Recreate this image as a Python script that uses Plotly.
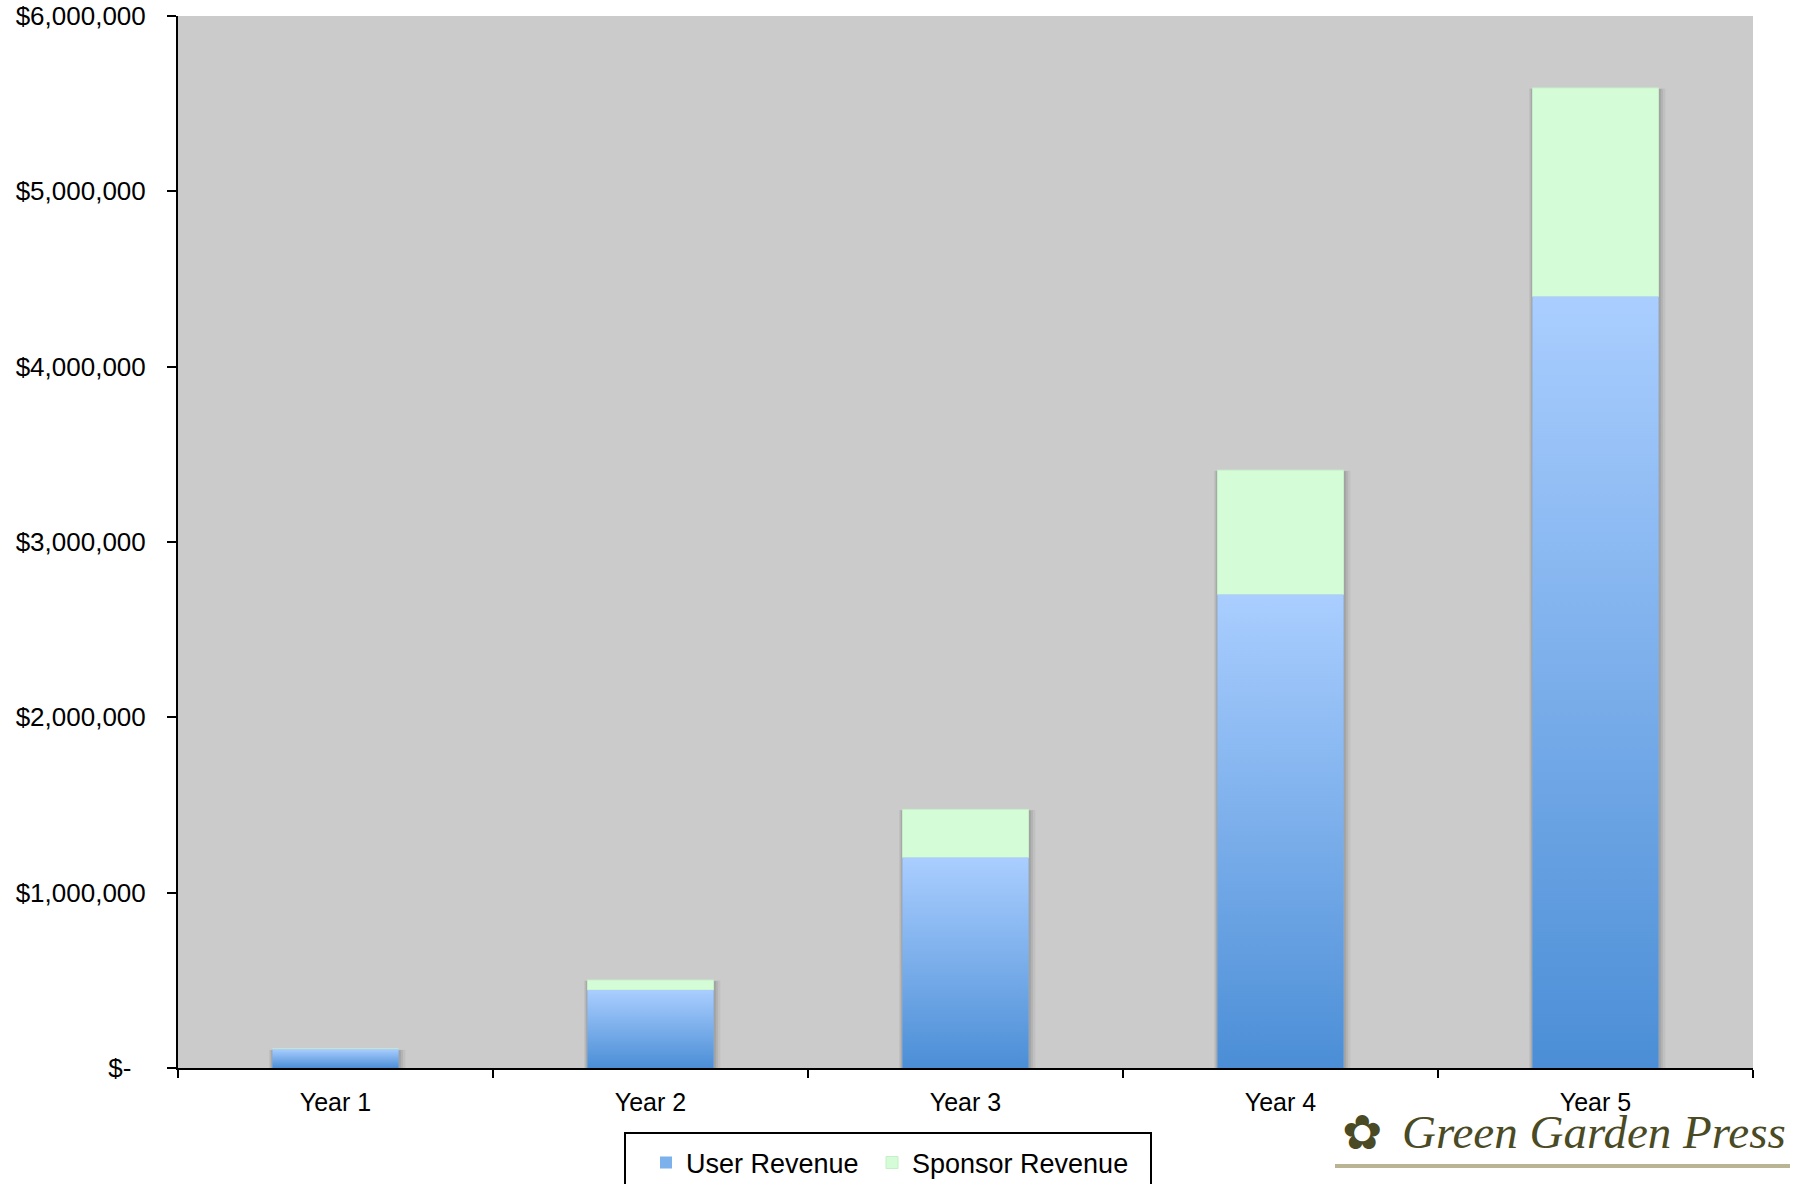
import plotly.graph_objects as go

# Revenue by year (USD)
years = ["Year 1", "Year 2", "Year 3", "Year 4", "Year 5"]
user_revenue = [108000, 445000, 1200000, 2700000, 4400000]
sponsor_revenue = [0, 57000, 275000, 710000, 1190000]

y_tick_vals = [0, 1000000, 2000000, 3000000, 4000000, 5000000, 6000000]
y_tick_text = ["$-\u00a0\u00a0", "$1,000,000", "$2,000,000", "$3,000,000",
               "$4,000,000", "$5,000,000", "$6,000,000"]

BAR_W = 0.4
FONT = "Liberation Sans, Arial, Helvetica, sans-serif"
BLUE_DARK = "#4B8ED6"
BLUE_LIGHT = "#AACEFF"
GREEN = "#D4FCD6"

W, H = 1797, 1184
ML, MR, MT, MB = 178, 44, 16, 116
PW, PH = W - ML - MR, H - MT - MB


def px_x(px):
    return (px - ML) / PW


def px_y(py):
    return (H - MB - py) / PH


fig = go.Figure()

# Stacked bars (each series keyed to its own legend box entry)
fig.add_trace(go.Bar(
    x=years, y=user_revenue, name="User Revenue", width=BAR_W,
    marker=dict(color="#7DB1EC", line=dict(width=0)), legend="legend",
))
fig.add_trace(go.Bar(
    x=years, y=sponsor_revenue, base=user_revenue, name="Sponsor Revenue",
    width=BAR_W, marker=dict(color=GREEN, line=dict(color="#C6EEC8", width=1)),
    legend="legend2",
))

# Vertical gradient fill on the user revenue segment of each bar
for i, v in enumerate(user_revenue):
    fig.add_trace(go.Scatter(
        x=[i - BAR_W / 2, i - BAR_W / 2, i + BAR_W / 2, i + BAR_W / 2, i - BAR_W / 2],
        y=[0, v, v, 0, 0],
        xaxis="x2", yaxis="y", mode="lines", line=dict(width=0),
        fill="toself",
        fillgradient=dict(type="vertical", start=0, stop=v,
                          colorscale=[[0, BLUE_DARK], [1, BLUE_LIGHT]]),
        showlegend=False, hoverinfo="skip",
    ))

# Soft drop shadow behind each bar
shapes = []
for i, (u, s) in enumerate(zip(user_revenue, sponsor_revenue)):
    top = u + s
    for grow, alpha in [(0.022, 0.05), (0.014, 0.07), (0.007, 0.09)]:
        shapes.append(dict(
            type="rect", xref="x", yref="y", layer="below",
            x0=i - BAR_W / 2 - grow * 0.5, x1=i + BAR_W / 2 + grow,
            y0=0, y1=top - 8000 + grow * 200000,
            fillcolor=f"rgba(0,0,0,{alpha})", line=dict(width=0),
        ))

# Legend frame
shapes.append(dict(
    type="rect", xref="paper", yref="paper",
    x0=px_x(625), x1=px_x(1151), y0=px_y(1133), y1=px_y(1200),
    line=dict(color="black", width=2), fillcolor="rgba(0,0,0,0)",
))

# Logo underline
shapes.append(dict(
    type="line", xref="paper", yref="paper",
    x0=px_x(1335), x1=px_x(1790), y0=px_y(1166), y1=px_y(1166),
    line=dict(color="#B9B493", width=4),
))

annotations = [
    dict(text="Green Garden Press", xref="paper", yref="paper",
         x=px_x(1594), y=px_y(1132), xanchor="center", yanchor="middle",
         showarrow=False,
         font=dict(family="Liberation Serif, DejaVu Serif, serif", size=47,
                   color="#4A4A24", style="italic")),
    dict(text="✿", xref="paper", yref="paper",
         x=px_x(1362), y=px_y(1132), xanchor="center", yanchor="middle",
         showarrow=False,
         font=dict(family="DejaVu Sans", size=48, color="#4A4A24")),
]

legend_style = dict(
    orientation="h", xanchor="left", yanchor="middle",
    xref="container", yref="container", y=(H - 1163) / H,
    font=dict(size=27, family=FONT), bgcolor="rgba(0,0,0,0)",
    borderwidth=0,
)

fig.update_layout(
    width=W, height=H,
    margin=dict(l=ML, r=MR, t=MT, b=MB, pad=0, autoexpand=False),
    barmode="overlay",
    plot_bgcolor="#CBCBCB", paper_bgcolor="white",
    font=dict(family=FONT, color="black"),
    showlegend=True,
    legend=dict(x=646 / W, **legend_style),
    legend2=dict(x=872 / W, **legend_style),
    xaxis=dict(
        type="category", range=[-0.5, 4.5], tickson="boundaries",
        ticks="outside", ticklen=8, tickwidth=2, tickcolor="black",
        showline=True, linecolor="black", linewidth=2, showgrid=False,
        tickfont=dict(size=25), ticklabelstandoff=11, fixedrange=True,
        automargin=False,
    ),
    xaxis2=dict(overlaying="x", range=[-0.5, 4.5], visible=False,
                fixedrange=True),
    yaxis=dict(
        range=[0, 6000000], tickvals=y_tick_vals, ticktext=y_tick_text,
        ticks="outside", ticklen=9, tickwidth=2, tickcolor="black",
        showline=True, linecolor="black", linewidth=2, showgrid=False,
        zeroline=False, tickfont=dict(size=26), ticklabelstandoff=16,
        fixedrange=True, automargin=False,
    ),
    shapes=shapes,
    annotations=annotations,
)

fig.write_html("out.html")
